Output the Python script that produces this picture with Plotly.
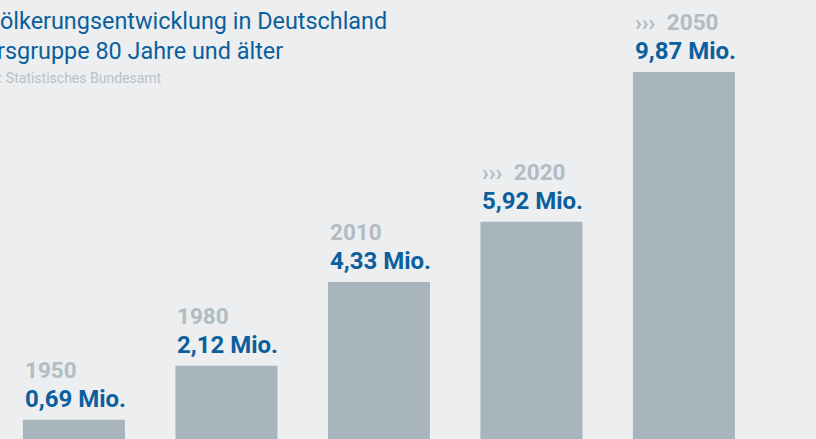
import plotly.graph_objects as go

years = ["1950", "1980", "2010", "2020", "2050"]
values = [0.69, 2.12, 4.33, 5.92, 9.87]
year_labels = ["1950", "1980", "2010", "›››\u20022020", "›››\u20022050"]
value_labels = ["0,69 Mio.", "2,12 Mio.", "4,33 Mio.", "5,92 Mio.", "9,87 Mio."]
title_lines = ["Bevölkerungsentwicklung in Deutschland", "Altersgruppe 80 Jahre und älter"]
source = "Quelle: Statistisches Bundesamt"

W, H = 816, 439
BG = "#eceef0"
BAR = "#a9b5bd"
BLUE = "#0b5f9d"
GRAY = "#b2bcc3"
FONT = "Roboto"
bar_w = 0.669

fig = go.Figure(go.Bar(x=years, y=values, marker_color=BAR, width=bar_w,
                       marker_line_width=0, hoverinfo="skip"))

ann = []
for i, (yl, vl, v) in enumerate(zip(year_labels, value_labels, values)):
    xl = i - bar_w / 2
    ann.append(dict(x=xl, y=v, xref="x", yref="y", text=vl, showarrow=False,
                    xanchor="left", yanchor="bottom", yshift=5,
                    font=dict(family=FONT, size=24, color=BLUE, weight="bold")))
    ann.append(dict(x=xl, y=v, xref="x", yref="y", text=yl, showarrow=False,
                    xanchor="left", yanchor="bottom", yshift=35,
                    font=dict(family=FONT, size=22.5, color=GRAY, weight="bold")))

ann.append(dict(x=-40 / W, y=1 - 5 / H, xref="paper", yref="paper", text=title_lines[0],
                showarrow=False, xanchor="left", yanchor="top",
                font=dict(family=FONT, size=23.4, color=BLUE)))
ann.append(dict(x=-46 / W, y=1 - 35 / H, xref="paper", yref="paper", text=title_lines[1],
                showarrow=False, xanchor="left", yanchor="top",
                font=dict(family=FONT, size=23.4, color=BLUE)))
ann.append(dict(x=-42 / W, y=1 - 68 / H, xref="paper", yref="paper", text=source,
                showarrow=False, xanchor="left", yanchor="top",
                font=dict(family=FONT, size=14, color="#b9c1c8")))

fig.update_layout(
    width=W, height=H, margin=dict(l=0, r=0, t=0, b=0),
    paper_bgcolor=BG, plot_bgcolor=BG, showlegend=False,
    xaxis=dict(range=[-0.485, 4.866], visible=False, fixedrange=True),
    yaxis=dict(range=[0.185, 11.77], visible=False, fixedrange=True),
    annotations=ann,
)
fig.write_html("out.html", config={"displayModeBar": False},
               post_script="document.body.style.margin='0';document.body.style.overflow='hidden';")
